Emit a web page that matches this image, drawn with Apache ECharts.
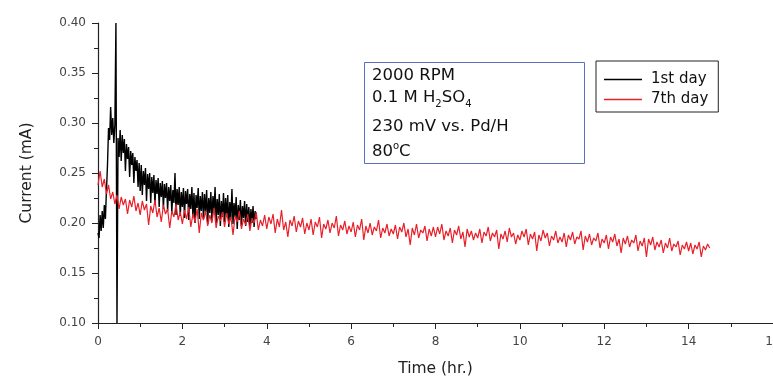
<!DOCTYPE html>
<html>
<head>
<meta charset="utf-8">
<script src="https://cdn.jsdelivr.net/npm/echarts@6/dist/echarts.min.js"></script>
<style>
html,body{margin:0;padding:0;background:#fff;}
#chart{width:773px;height:382px;}
</style>
</head>
<body>
<div id="chart"></div>
<script>
// ---- data (current in mA, time in hr.) ----
var seriesNames = ['1st day', '7th day'];
var xTicks = [0, 2, 4, 6, 8, 10, 12, 14, 16];
var yTicks = [0.10, 0.15, 0.20, 0.25, 0.30, 0.35, 0.40];

var day1Start = 0, day1Step = 0.025;
var day1Current = [
0.190,0.185,0.208,0.192,0.212,0.195,0.218,0.204,0.232,0.258,
0.295,0.283,0.316,0.288,0.305,0.280,0.298,0.400,0.100,0.285,
0.266,0.293,0.262,0.288,0.270,0.284,0.252,0.279,0.264,0.276,0.246,0.272,0.258,0.270,0.240,0.266,0.252,0.263,0.236,0.260,
0.232,0.258,0.228,0.252,0.238,0.255,0.222,0.249,0.234,0.250,0.220,0.246,0.230,0.248,0.218,0.243,0.229,0.245,0.216,0.240,
0.226,0.242,0.214,0.239,0.225,0.240,0.212,0.236,0.222,0.238,0.210,0.233,0.220,0.250,0.208,0.234,0.218,0.236,0.207,0.231,
0.216,0.235,0.205,0.232,0.219,0.234,0.203,0.229,0.214,0.236,0.206,0.230,0.200,0.228,0.215,0.235,0.204,0.227,0.212,0.231,
0.204,0.229,0.211,0.233,0.199,0.225,0.210,0.231,0.202,0.227,0.212,0.236,0.200,0.224,0.208,0.229,0.197,0.222,0.206,0.230,
0.201,0.225,0.206,0.228,0.196,0.221,0.204,0.234,0.199,0.220,0.206,0.226,0.194,0.218,0.203,0.223,0.197,0.217,0.205,0.222,
0.197,0.219,0.201,0.216,0.195,0.214,0.200,0.217,0.196,0.212,0.204
];

var day7Start = 0, day7Step = 0.05;
var day7Current = [
0.238,0.252,0.236,0.244,0.229,0.238,0.224,0.231,0.219,0.228,0.214,0.226,0.218,0.224,0.209,0.223,0.216,0.227,0.212,0.220,
0.208,0.222,0.213,0.219,0.198,0.217,0.210,0.223,0.206,0.215,0.201,0.218,0.209,0.214,0.195,0.212,0.206,0.219,0.203,0.211,
0.199,0.213,0.204,0.216,0.196,0.209,0.201,0.214,0.190,0.210,0.203,0.212,0.197,0.208,0.200,0.215,0.195,0.207,0.202,0.211,
0.196,0.210,0.199,0.206,0.188,0.207,0.201,0.212,0.194,0.204,0.198,0.209,0.192,0.205,0.200,0.211,0.193,0.203,0.197,0.208,
0.194,0.206,0.199,0.209,0.190,0.204,0.196,0.213,0.193,0.201,0.186,0.203,0.197,0.207,0.191,0.202,0.196,0.205,0.189,0.200,
0.193,0.204,0.188,0.201,0.196,0.206,0.185,0.199,0.194,0.203,0.190,0.200,0.195,0.207,0.187,0.198,0.193,0.202,0.189,0.197,
0.191,0.201,0.186,0.198,0.193,0.204,0.183,0.197,0.190,0.200,0.188,0.196,0.192,0.203,0.185,0.195,0.190,0.199,0.187,0.194,
0.189,0.198,0.184,0.196,0.191,0.200,0.186,0.194,0.178,0.195,0.188,0.199,0.185,0.193,0.190,0.197,0.182,0.194,0.187,0.196,
0.186,0.196,0.189,0.199,0.183,0.192,0.187,0.195,0.180,0.193,0.188,0.197,0.184,0.191,0.176,0.194,0.186,0.192,0.183,0.190,
0.185,0.194,0.180,0.191,0.187,0.196,0.182,0.190,0.186,0.193,0.174,0.189,0.184,0.192,0.181,0.195,0.186,0.190,0.179,0.188,
0.183,0.192,0.186,0.194,0.178,0.189,0.184,0.191,0.172,0.188,0.182,0.193,0.185,0.190,0.177,0.187,0.183,0.192,0.180,0.186,
0.181,0.190,0.176,0.188,0.183,0.191,0.179,0.186,0.184,0.192,0.173,0.187,0.181,0.189,0.178,0.185,0.182,0.190,0.175,0.184,
0.180,0.188,0.174,0.186,0.181,0.189,0.177,0.184,0.170,0.185,0.179,0.187,0.176,0.183,0.180,0.188,0.172,0.182,0.177,0.185,
0.166,0.184,0.178,0.186,0.173,0.181,0.176,0.183,0.170,0.180,0.175,0.185,0.172,0.179,0.176,0.182,0.168,0.178,0.174,0.181,
0.172,0.180,0.169,0.178,0.174,0.181,0.166,0.177,0.173,0.179,0.175
];

// info box text pieces: [main, subscript/superscript, main, subscript]
var infoLine1 = '2000 RPM';
var infoLine2 = ['0.1 M H', '2', 'SO', '4'];
var infoLine3 = '230 mV vs. Pd/H';
var infoLine4 = ['80', 'o', 'C'];

function pairs(start, step, vals) {
  return vals.map(function (v, i) { return [+(start + i * step).toFixed(4), v]; });
}

var FONT = '"DejaVu Sans", "Liberation Sans", Arial, sans-serif';
var ctx = document.createElement('canvas').getContext('2d');
function tw(text, size) { ctx.font = size + 'px ' + FONT; return ctx.measureText(text).width; }

var BIG = 16.5, SMALL = 10;
var tx = 372;
var graphics = [
  {type: 'rect', left: 364, top: 62, shape: {width: 220, height: 101},
   style: {fill: '#fff', stroke: '#5a6fc0', lineWidth: 1}, z: 10}
];
function addText(x, y, text, size) {
  graphics.push({type: 'text', x: x, y: y, style: {text: text, font: size + 'px ' + FONT, fill: '#111',
    textVerticalAlign: 'middle', textAlign: 'left'}, z: 11});
}
addText(tx, 76, infoLine1, BIG);
var x2 = tx;
addText(x2, 98, infoLine2[0], BIG); x2 += tw(infoLine2[0], BIG);
addText(x2, 104, infoLine2[1], SMALL); x2 += tw(infoLine2[1], SMALL);
addText(x2, 98, infoLine2[2], BIG); x2 += tw(infoLine2[2], BIG);
addText(x2, 104, infoLine2[3], SMALL);
addText(tx, 127, infoLine3, BIG);
var x4 = tx;
addText(x4, 152, infoLine4[0], BIG); x4 += tw(infoLine4[0], BIG);
addText(x4, 146, infoLine4[1], SMALL); x4 += tw(infoLine4[1], SMALL);
addText(x4, 152, infoLine4[2], BIG);

var chart = echarts.init(document.getElementById('chart'), null, {renderer: 'canvas'});

chart.setOption({
  animation: false,
  backgroundColor: '#fff',
  grid: {left: 98, top: 23, right: 0, bottom: 59, containLabel: false, outerBoundsMode: 'none'},
  xAxis: {
    type: 'value', min: xTicks[0], max: xTicks[xTicks.length - 1], interval: 2,
    name: 'Time (hr.)', nameLocation: 'middle', nameGap: 38,
    nameTextStyle: {fontFamily: FONT, fontSize: 15.5, color: '#222'},
    axisLine: {show: true, onZero: false, lineStyle: {color: '#222', width: 1.2}},
    axisTick: {show: true, inside: false, length: 6, lineStyle: {color: '#222'}},
    minorTick: {show: true, splitNumber: 2, length: 4, lineStyle: {color: '#222'}},
    splitLine: {show: false},
    axisLabel: {margin: 13, fontFamily: FONT, fontSize: 12, color: '#444',
      formatter: function (v) { return String(v); }, showMaxLabel: true, hideOverlap: false}
  },
  yAxis: {
    type: 'value', min: yTicks[0], max: yTicks[yTicks.length - 1], interval: 0.05,
    name: 'Current (mA)', nameLocation: 'middle', nameGap: 63, nameRotate: 90,
    nameTextStyle: {fontFamily: FONT, fontSize: 15.5, color: '#222'},
    axisLine: {show: true, onZero: false, lineStyle: {color: '#222', width: 1.2}},
    axisTick: {show: true, inside: false, length: 6, lineStyle: {color: '#222'}},
    minorTick: {show: true, splitNumber: 2, length: 4, lineStyle: {color: '#222'}},
    splitLine: {show: false},
    axisLabel: {margin: 12, fontFamily: FONT, fontSize: 12, color: '#444',
      formatter: function (v) { return v.toFixed(2); }}
  },
  legend: {
    data: seriesNames,
    orient: 'vertical', left: 596, top: 61,
    icon: 'rect',
    padding: [10, 10, 4, 8], itemGap: 3, itemWidth: 38, itemHeight: 1.5,
    borderColor: '#222', borderWidth: 1, backgroundColor: '#fff',
    textStyle: {fontFamily: FONT, fontSize: 15, color: '#111', lineHeight: 17, padding: [0, 0, 0, 4]}
  },
  series: [
    {name: seriesNames[0], type: 'line', data: pairs(day1Start, day1Step, day1Current),
     showSymbol: false, symbol: 'none', lineStyle: {color: '#000', width: 1.4}, itemStyle: {color: '#000'},
     clip: true},
    {name: seriesNames[1], type: 'line', data: pairs(day7Start, day7Step, day7Current),
     showSymbol: false, symbol: 'none', lineStyle: {color: '#e8202a', width: 1.2}, itemStyle: {color: '#e8202a'},
     clip: true}
  ],
  graphic: graphics
});
</script>
</body>
</html>
